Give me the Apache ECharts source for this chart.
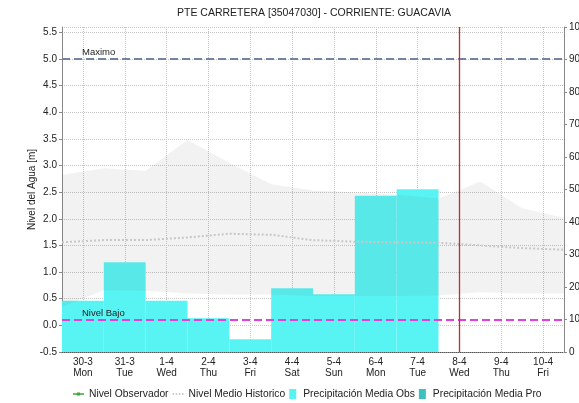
<!DOCTYPE html>
<html>
<head>
<meta charset="utf-8">
<script src="https://cdn.jsdelivr.net/npm/echarts@6/dist/echarts.min.js"></script>
<style>
  html, body { margin: 0; padding: 0; background: #fff; }
  #grafico { width: 579px; height: 403px; }
</style>
</head>
<body>
<div id="grafico"></div>
<script>
// dias del pronostico (eje x)
const dias = ['30-3\nMon', '31-3\nTue', '1-4\nWed', '2-4\nThu', '3-4\nFri', '4-4\nSat',
  '5-4\nSun', '6-4\nMon', '7-4\nTue', '8-4\nWed', '9-4\nThu', '10-4\nFri']
// limites entre dias (rango historico y nivel medio se dibujan en los cortes)
const cortes = ['0', '1', '2', '3', '4', '5', '6', '7', '8', '9', '10', '11', '12']
// medios dias, solo para la rejilla vertical
const mediosDias = ['0', '1', '2', '3', '4', '5', '6', '7', '8', '9', '10', '11', '12',
  '13', '14', '15', '16', '17', '18', '19', '20', '21', '22', '23', '24']

const precipObs = [15.8, 27.6, 15.8, 10.4, 3.9, 19.6, 17.8, 48.1, 50.1, null, null, null]
const precipPro = [null, null, null, null, null, null, null, null, null, null, null, null]
const nivelObservador = [null, null, null, null, null, null, null, null, null, null, null, null]

const historicoMin = [0.35, 0.66, 0.65, 0.6, 0.58, 0.58, 0.55, 0.55, 0.55, 0.56, 0.62, 0.6, 0.6]
const historicoMax = [2.82, 2.95, 2.9, 3.48, 3.05, 2.65, 2.53, 2.5, 2.45, 2.38, 2.7, 2.2, 2.02]
const nivelMedio = [1.56, 1.6, 1.6, 1.65, 1.72, 1.7, 1.6, 1.57, 1.56, 1.55, 1.5, 1.45, 1.42]

const nivelMaximo = 5.0
const nivelBajo = 0.1
const diaActual = '8-4\nWed'

const fuente = 'Liberation Sans'
const chart = echarts.init(document.getElementById('grafico'), null, { renderer: 'canvas' })

const option = {
  animation: false,
  title: {
    text: 'PTE CARRETERA [35047030] - CORRIENTE: GUACAVIA',
    left: 177,
    top: 0,
    padding: [8, 0, 0, 0],
    textStyle: { fontFamily: fuente, fontSize: 10.5, fontWeight: 'normal', color: '#222' }
  },
  legend: {
    left: 68,
    top: 384,
    itemWidth: 11,
    itemHeight: 10,
    itemGap: 4,
    textStyle: { fontFamily: fuente, fontSize: 10.3, color: '#222' },
    data: [
      { name: 'Nivel Observador', icon: 'path://M0,4H14V6H0Z M5,3H9V7H5Z' },
      { name: 'Nivel Medio Historico', icon: 'path://M0,4H2V6H0Z M4,4H6V6H4Z M8,4H10V6H8Z M12,4H14V6H12Z' },
      { name: 'Precipitación Media Obs', icon: 'path://M0,0H7V10H0Z' },
      { name: 'Precipitación Media Pro', icon: 'path://M0,0H7V10H0Z' }
    ]
  },
  grid: { left: 62, right: 15, top: 27, bottom: 51, outerBoundsMode: 'none', containLabel: false },
  xAxis: [
    {
      type: 'category',
      data: dias,
      boundaryGap: true,
      axisLine: { onZero: false, lineStyle: { color: '#555', type: 'dotted' } },
      axisTick: { show: false },
      axisLabel: { fontFamily: fuente, fontSize: 10, color: '#222', lineHeight: 11, margin: 5, interval: 0 },
      splitLine: { show: false }
    },
    {
      type: 'category',
      data: cortes,
      boundaryGap: false,
      show: false
    },
    {
      type: 'category',
      data: mediosDias,
      boundaryGap: false,
      axisLine: { show: false },
      axisTick: { show: false },
      axisLabel: { show: false },
      splitLine: {
        show: true,
        interval: i => i % 2 === 1,
        lineStyle: { color: '#c4c4c4', type: 'dotted' }
      }
    }
  ],
  yAxis: [
    {
      type: 'value',
      min: -0.5,
      max: 5.6,
      interval: 0.5,
      name: 'Nivel del Agua [m]',
      nameLocation: 'middle',
      nameGap: 25,
      nameMoveOverlap: false,
      nameTextStyle: { fontFamily: fuente, fontSize: 10, color: '#222' },
      axisLine: { show: true, lineStyle: { color: '#888' } },
      axisTick: { show: true, length: 3, lineStyle: { color: '#888' } },
      axisLabel: {
        fontFamily: fuente, fontSize: 10, color: '#222', margin: 5, showMaxLabel: false,
        formatter: v => v.toFixed(1)
      },
      splitLine: { show: true, lineStyle: { color: '#c4c4c4', type: 'dotted' } }
    },
    {
      type: 'value',
      min: 0,
      max: 100,
      interval: 10,
      position: 'right',
      axisLine: { show: true, lineStyle: { color: '#888' } },
      axisTick: { show: true, length: 3, lineStyle: { color: '#888' } },
      axisLabel: { fontFamily: fuente, fontSize: 10, color: '#222', margin: 5 },
      splitLine: { show: false }
    }
  ],
  series: [
    {
      name: 'Precipitación Media Obs',
      type: 'bar',
      xAxisIndex: 0,
      yAxisIndex: 1,
      barWidth: '100%',
      barGap: '-100%',
      itemStyle: { color: '#58f4f4' },
      data: precipObs
    },
    {
      name: 'Precipitación Media Pro',
      type: 'bar',
      xAxisIndex: 0,
      yAxisIndex: 1,
      barWidth: '100%',
      barGap: '-100%',
      itemStyle: { color: '#3fc0c0' },
      data: precipPro
    },
    {
      name: 'rango-min',
      type: 'line',
      xAxisIndex: 1,
      yAxisIndex: 0,
      stack: 'rango',
      symbol: 'none',
      silent: true,
      lineStyle: { opacity: 0 },
      data: historicoMin
    },
    {
      name: 'rango-max',
      type: 'line',
      xAxisIndex: 1,
      yAxisIndex: 0,
      stack: 'rango',
      symbol: 'none',
      silent: true,
      lineStyle: { opacity: 0 },
      areaStyle: { color: 'rgba(110,110,110,0.12)' },
      data: historicoMax.map((v, i) => +(v - historicoMin[i]).toFixed(3))
    },
    {
      name: 'Nivel Medio Historico',
      type: 'line',
      xAxisIndex: 1,
      yAxisIndex: 0,
      symbol: 'none',
      itemStyle: { color: '#bdbdbd' },
      lineStyle: { color: '#c8c8c8', width: 2, type: 'dotted' },
      data: nivelMedio,
      markLine: {
        silent: true,
        symbol: 'none',
        data: [
          {
            yAxis: nivelMaximo,
            lineStyle: { color: '#7483a2', width: 2, type: [8, 4] },
            label: { show: true, formatter: 'Maximo', position: 'insideStartTop', distance: [20, 2],
              fontFamily: fuente, fontSize: 9.5, color: '#222' }
          },
          {
            yAxis: nivelBajo,
            lineStyle: { color: '#e040e0', width: 2, type: [8, 4] },
            label: { show: true, formatter: 'Nivel Bajo', position: 'insideStartTop', distance: [20, 2],
              fontFamily: fuente, fontSize: 9.5, color: '#222' }
          }
        ]
      }
    },
    {
      name: 'Nivel Observador',
      type: 'line',
      xAxisIndex: 0,
      yAxisIndex: 0,
      symbol: 'circle',
      symbolSize: 4,
      itemStyle: { color: '#3aaa35' },
      lineStyle: { color: '#3aaa35', width: 2 },
      data: nivelObservador
    },
    {
      name: 'hoy',
      type: 'line',
      xAxisIndex: 0,
      yAxisIndex: 0,
      symbol: 'none',
      silent: true,
      itemStyle: { color: '#cc2a2a' },
      data: [],
      markLine: {
        silent: true,
        symbol: ['none', 'none'],
        label: { show: false },
        lineStyle: { color: '#cc2a2a', width: 1.3, type: 'solid', opacity: 1 },
        emphasis: { disabled: true },
        data: [{ xAxis: diaActual }]
      }
    }
  ]
}

chart.setOption(option)
</script>
</body>
</html>
